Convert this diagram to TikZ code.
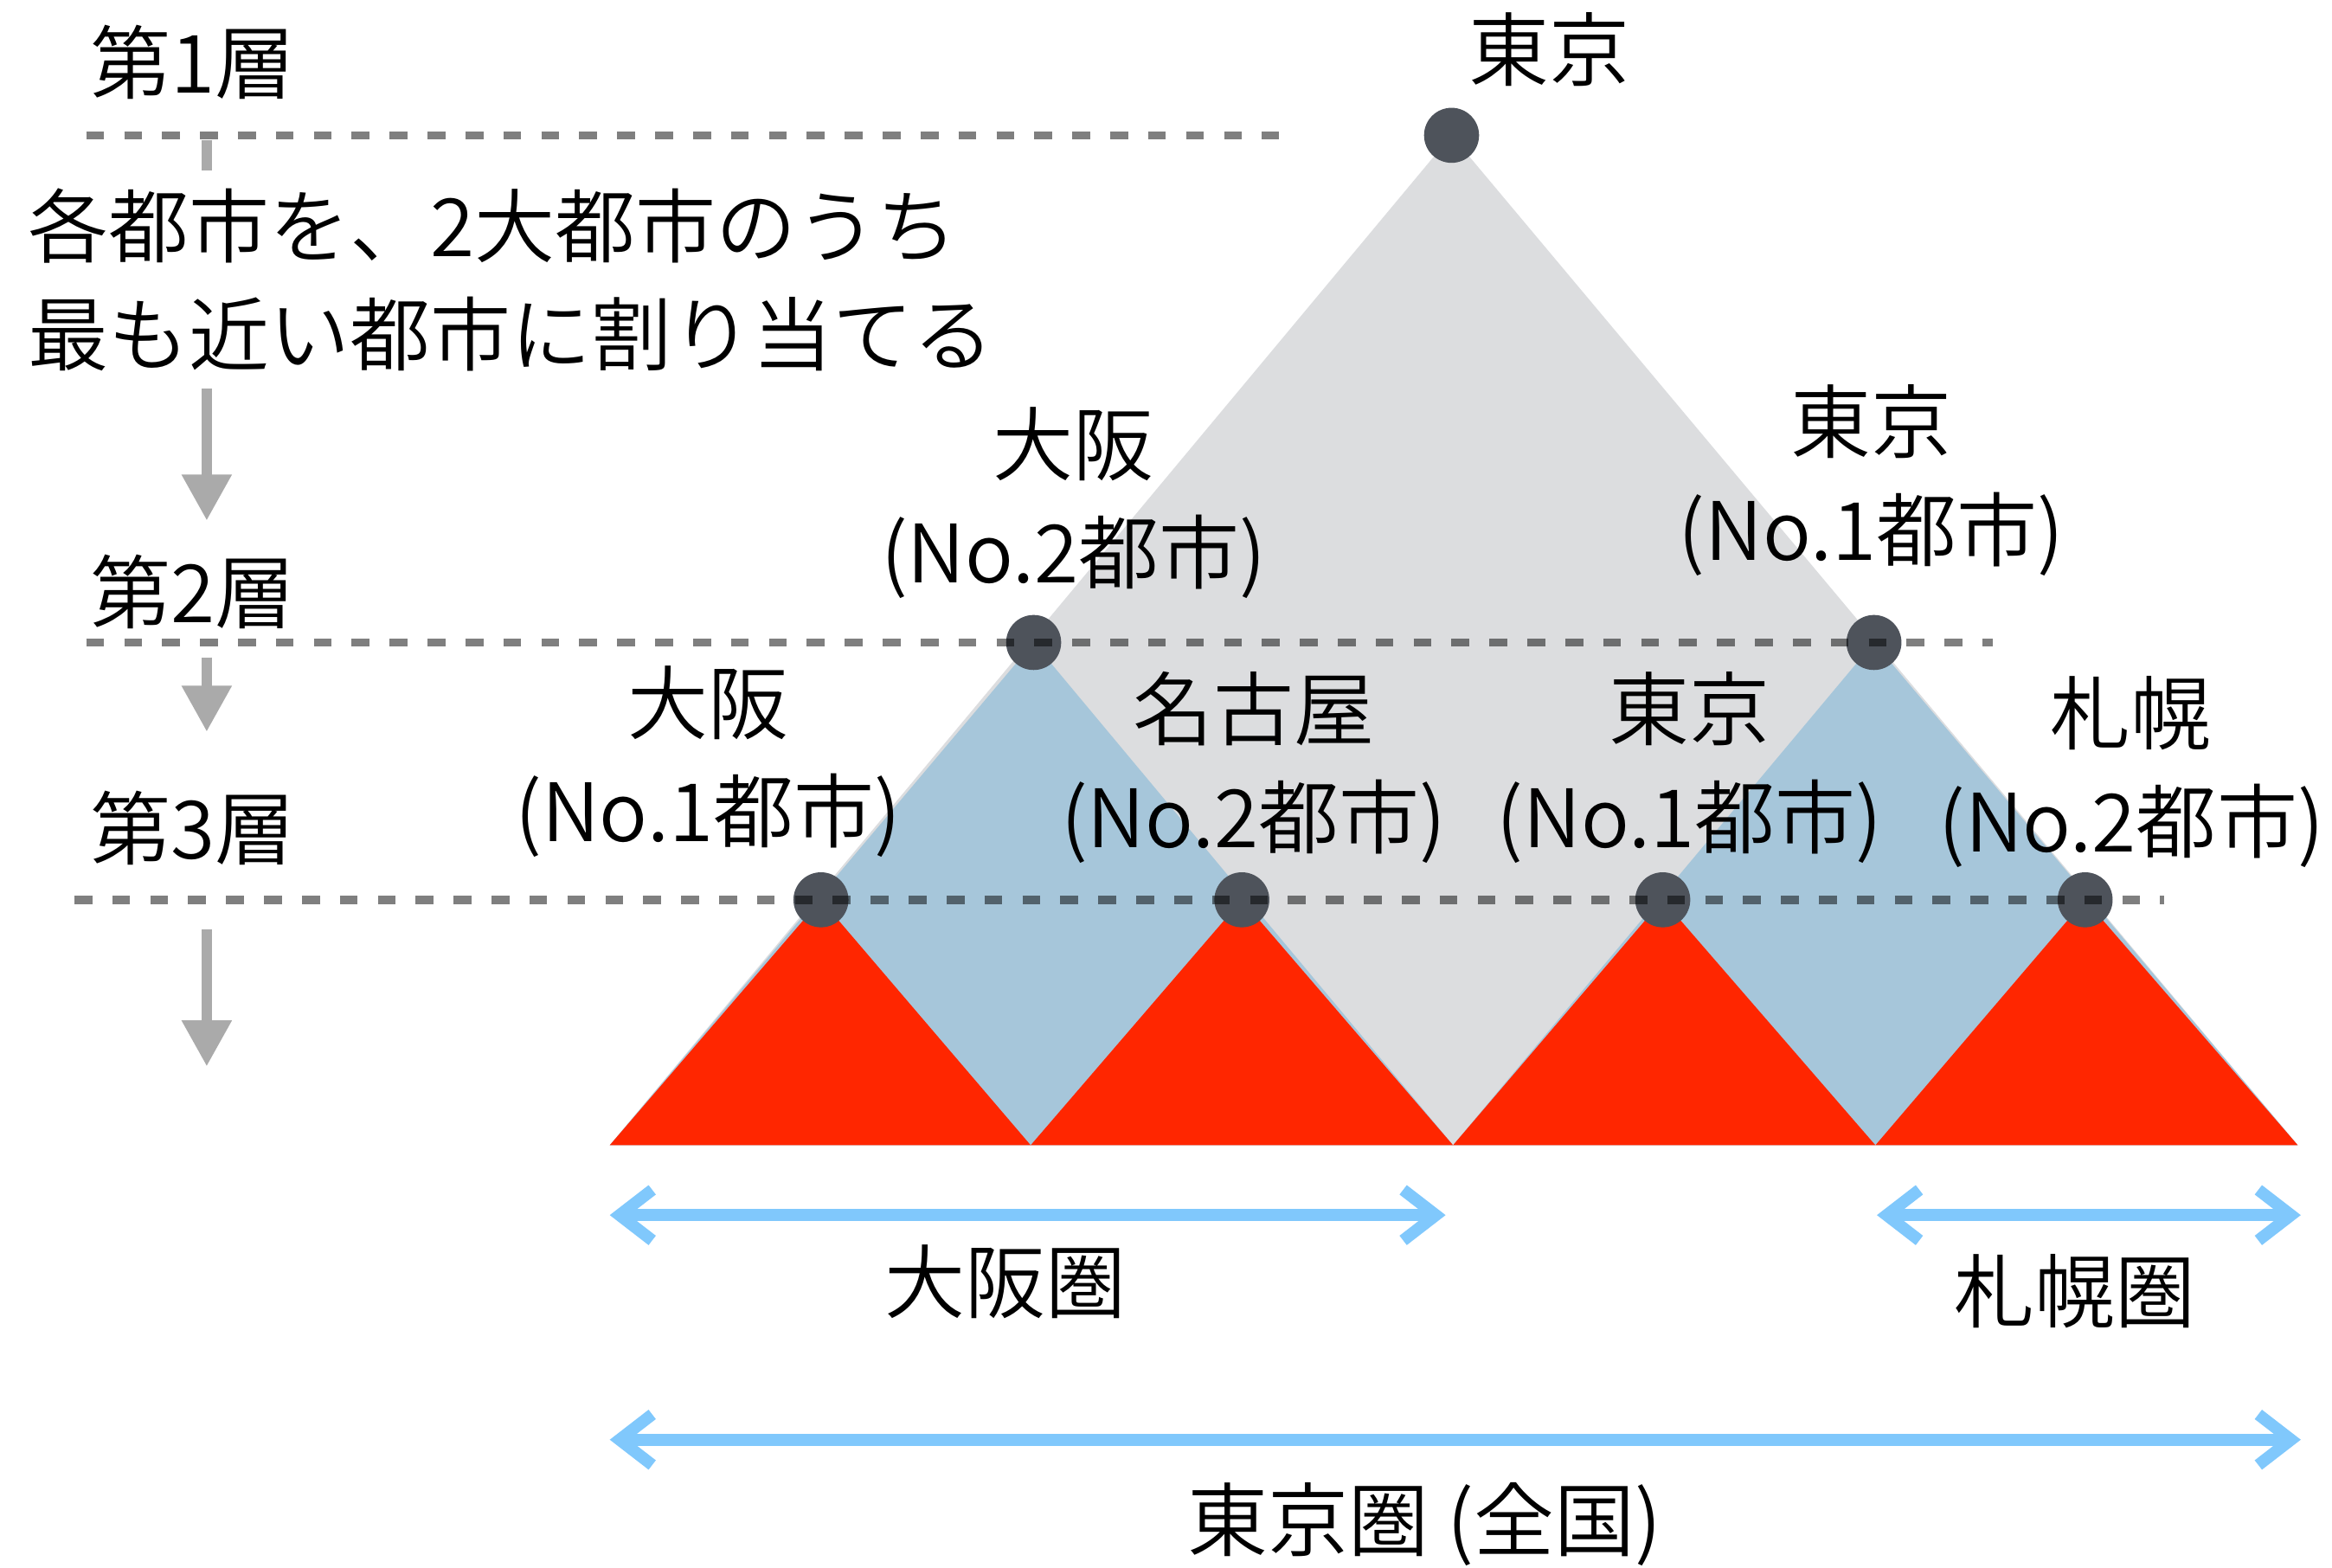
\documentclass[tikz,border=0pt]{standalone}
\usepackage{fontspec}
\setmainfont{Noto Sans CJK JP}[UprightFont=* DemiLight]
\usetikzlibrary{arrows.meta}

\definecolor{areagray}{HTML}{DCDDDF}
\definecolor{areablue}{HTML}{A6C6DA}
\definecolor{areared}{HTML}{FF2600}
\definecolor{dotgray}{HTML}{4E535B}
\definecolor{spanblue}{HTML}{80C8FC}
\definecolor{downgray}{HTML}{AAAAAA}

\begin{document}
\begin{tikzpicture}[x=0.1mm, y=-0.1mm,
    font=\fontsize{15.4}{20.7}\selectfont,
    city/.style={circle, fill=dotgray, minimum size=3.7mm, inner sep=0pt},
    layer/.style={black, draw opacity=0.5, line width=0.55mm, dash pattern=on 1.2mm off 1.35mm},
    down/.style={downgray, line width=0.7mm, -{Triangle[length=3.1mm, width=3.2mm]}},
    span/.style={spanblue, line width=0.8mm, line join=round,
        {Straight Barb[length=2.2mm, width=3.4mm]}-{Straight Barb[length=2.2mm, width=3.4mm]}},
    label/.style={align=center, inner sep=0pt}]
    \useasboundingbox (0,0) rectangle (1568,1054);

    % where the cities sit, and the base of the areas
    \coordinate (tk1) at (976,91);
    \coordinate (os2) at (695,432);
    \coordinate (tk2) at (1260,432);
    \coordinate (os3) at (552,605);
    \coordinate (ng3) at (835,605);
    \coordinate (tk3) at (1118,605);
    \coordinate (sp3) at (1402,605);
    \coordinate (b0) at (410,770);
    \coordinate (b1) at (693,770);
    \coordinate (b2) at (977,770);
    \coordinate (b3) at (1261,770);
    \coordinate (b4) at (1545,770);

    \fill [areagray] (tk1) -- (b0) -- (b4) -- cycle;
    \fill [areablue] (os2) -- (b0) -- (b2) -- cycle;
    \fill [areablue] (tk2) -- (b2) -- (b4) -- cycle;
    \fill [areared] (os3) -- (b0) -- (b1) -- cycle;
    \fill [areared] (ng3) -- (b1) -- (b2) -- cycle;
    \fill [areared] (tk3) -- (b2) -- (b3) -- cycle;
    \fill [areared] (sp3) -- (b3) -- (b4) -- cycle;

    \foreach \c in {tk1, os2, tk2, os3, ng3, tk3, sp3}
        \node [city] (dot-\c) at (\c) {};

    % layers
    \draw [layer] (58,91) -- (860,91);
    \draw [layer] (58,432) -- (1340,432);
    \draw [layer] (50,605) -- (1455,605);

    \node (layer1) at (130,42) {第1層};
    \node (layer2) at (130,398) {第2層};
    \node (layer3) at (130,557) {第3層};

    \draw [down] (139,94) -- (139,350);
    \draw [down] (139,442) -- (139,492);
    \draw [down] (139,625) -- (139,717);
    \node [fill=white, align=left, inner xsep=1mm, inner ysep=1.2mm, anchor=west] (rule)
        at (8,188) {各都市を、2大都市のうち\\最も近い都市に割り当てる};

    % city names
    \node [label] (name-tk1) at (1042,33) {東京};
    \node [label] (name-os2) at (722,338) {大阪\\(No.2都市)};
    \node [label] (name-tk2) at (1258,323) {東京\\(No.1都市)};
    \node [label] (name-os3) at (476,512) {大阪\\(No.1都市)};
    \node [label] (name-ng3) at (843,516) {名古屋\\(No.2都市)};
    \node [label] (name-tk3) at (1136,516) {東京\\(No.1都市)};
    \node [label] (name-sp3) at (1433,519) {札幌\\(No.2都市)};

    % areas
    \coordinate (osL) at (410,817);
    \coordinate (osR) at (972,817);
    \coordinate (spL) at (1262,817);
    \coordinate (spR) at (1547,817);
    \coordinate (tkL) at (410,968);
    \coordinate (tkR) at (1547,968);
    \draw [span] (osL) -- (osR);
    \draw [span] (spL) -- (spR);
    \draw [span] (tkL) -- (tkR);
    \node (area-os) at (676,862) {大阪圏};
    \node (area-sp) at (1395,868) {札幌圏};
    \node (area-tk) at (958,1025) {東京圏 (全国)};
\end{tikzpicture}
\end{document}
